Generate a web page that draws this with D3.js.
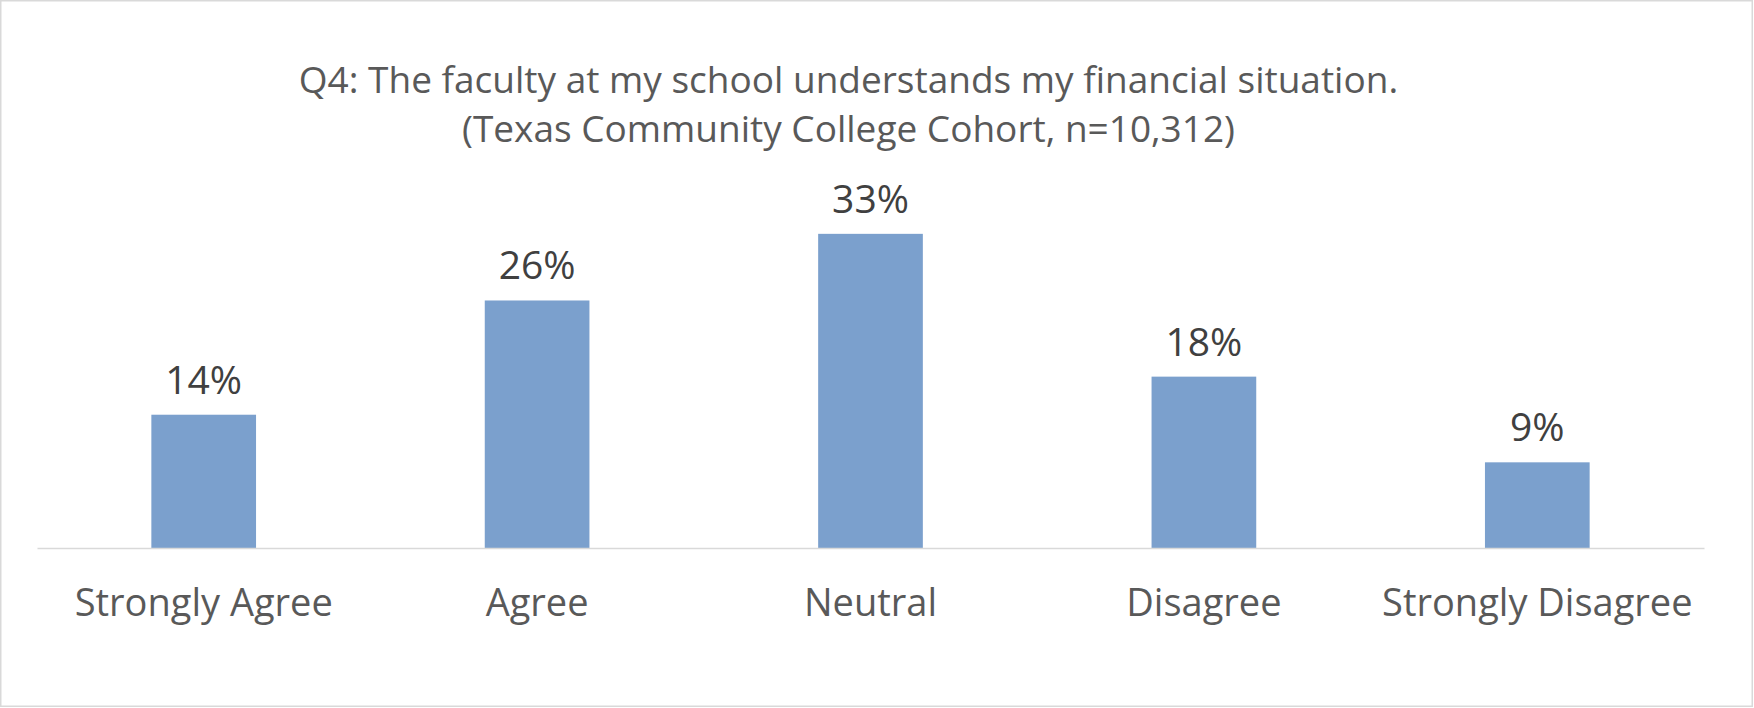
<!DOCTYPE html>
<html>
<head>
<meta charset="utf-8">
<script src="https://cdn.jsdelivr.net/npm/d3@7/dist/d3.min.js"></script>
<style>
  html, body { margin: 0; padding: 0; background: #fff; }
  svg { display: block; }
  text { font-family: "Open Sans", "Noto Sans", sans-serif; }
</style>
</head>
<body>
<script>
// Survey responses, share of respondents
const categories = ["Strongly Agree", "Agree", "Neutral", "Disagree", "Strongly Disagree"];
const shares = [0.14, 0.26, 0.33, 0.18, 0.09];
const titleLines = [
  "Q4: The faculty at my school understands my financial situation.",
  "(Texas Community College Cohort, n=10,312)"
];

const W = 1754, H = 708;
const plot = { left: 37, right: 1704, base: 548, top: 214.8 };

const svg = d3.select("body").append("svg")
  .attr("width", W).attr("height", H);

svg.append("rect")
  .attr("x", 0.75).attr("y", 0.75)
  .attr("width", W - 2.5).attr("height", H - 2.5)
  .attr("fill", "#fff")
  .attr("stroke", "#d9d9d9").attr("stroke-width", 1.5);

const x = d3.scaleBand()
  .domain(categories)
  .range([plot.left, plot.right])
  .paddingInner(0.686)
  .paddingOuter(0.343);

const y = d3.scaleLinear()
  .domain([0, 0.35])
  .range([plot.base, plot.top]);

const rows = categories.map((c, i) => ({ c, v: shares[i] }));

// Bars
svg.append("g").selectAll("rect")
  .data(rows)
  .join("rect")
  .attr("x", d => x(d.c))
  .attr("width", x.bandwidth())
  .attr("y", d => y(d.v))
  .attr("height", d => y(0) - y(d.v))
  .attr("fill", "#7ba0cd");

// Value labels
const fmt = d3.format(".0%");
svg.append("g").selectAll("text")
  .data(rows)
  .join("text")
  .attr("x", d => x(d.c) + x.bandwidth() / 2)
  .attr("y", d => y(d.v) - 21)
  .attr("text-anchor", "middle")
  .attr("font-size", 39)
  .attr("fill", "#404040")
  .text(d => fmt(d.v));

// Category axis
const axis = svg.append("g")
  .attr("transform", `translate(0,${plot.base})`)
  .call(d3.axisBottom(x).tickSize(0).tickSizeOuter(0).tickPadding(0));
axis.select(".domain")
  .attr("stroke", "#d9d9d9").attr("stroke-width", 1.5);
axis.selectAll(".tick text")
  .attr("y", 67.7).attr("dy", null)
  .attr("font-size", 38)
  .attr("font-family", "\"Open Sans\", \"Noto Sans\", sans-serif")
  .attr("fill", "#595959");

// Title
svg.append("g").selectAll("text")
  .data(titleLines)
  .join("text")
  .attr("x", 848.5)
  .attr("y", (d, i) => 93 + i * 48.5)
  .attr("text-anchor", "middle")
  .attr("font-size", 37)
  .attr("fill", "#595959")
  .text(d => d);
</script>
</body>
</html>
